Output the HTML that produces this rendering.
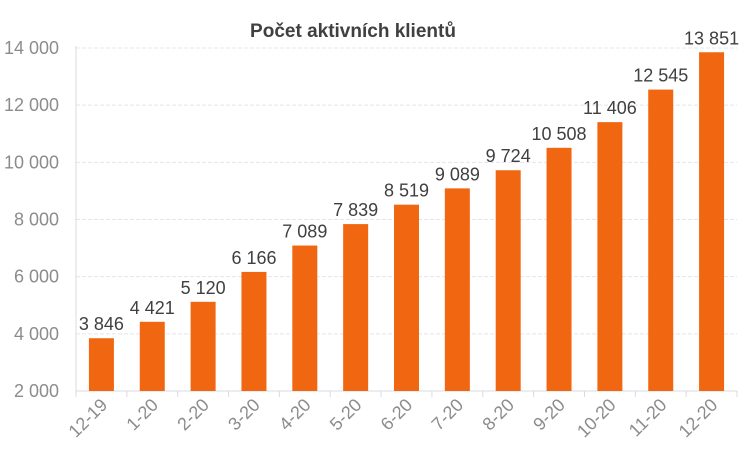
<!DOCTYPE html>
<html><head><meta charset="utf-8"><style>
body{margin:0;background:#fff}
svg text{font-family:"Liberation Sans",sans-serif}
</style></head><body>
<svg id="c" width="749" height="455">
<text x="353" y="37" text-anchor="middle" font-size="19" font-weight="bold" fill="#404040">Počet aktivních klientů</text>
<g id="g"></g>
</svg>
<script>
const categories=["12-19","1-20","2-20","3-20","4-20","5-20","6-20","7-20","8-20","9-20","10-20","11-20","12-20"];
const values=[3846,4421,5120,6166,7089,7839,8519,9089,9724,10508,11406,12545,13851];
const yTicks=[2000,4000,6000,8000,10000,12000,14000];
const L=76,R=737,T=48,B=391,yMin=2000,yMax=14000;
const ns="http://www.w3.org/2000/svg",g=document.getElementById('g');
const step=(R-L)/categories.length;
const y=v=>B-(v-yMin)/(yMax-yMin)*(B-T);
const x=i=>L+step*(i+0.5);
const fmt=v=>String(v).replace(/\B(?=(\d{3})+(?!\d))/g,' ');
function mk(t,a){const e=document.createElementNS(ns,t);for(const k in a)e.setAttribute(k,a[k]);g.appendChild(e);return e;}
yTicks.forEach(v=>{
 if(v>yMin){const l=mk('line',{x1:L,x2:R,y1:y(v),y2:y(v),stroke:'#e4e4ef','stroke-dasharray':'4 2'});
 
 }
 const t=mk('text',{x:L-17,y:y(v)+6,'text-anchor':'end','font-size':18,fill:'#8c8c8c'});t.textContent=fmt(v);
 
 
});
const ax=mk('line',{x1:L,x2:R,y1:B,y2:B,stroke:'#d9d9e3'});


const ay=mk('line',{x1:L,x2:L,y1:T-2,y2:B,stroke:'#d9d9e3'});


for(let i=0;i<=categories.length;i++){const tk=mk('line',{x1:L+step*i,x2:L+step*i,y1:B,y2:B+6,stroke:'#d9d9e3'});
 
 }
categories.forEach((c,i)=>{
 const bw=25,cx=x(i);
 const r=mk('rect',{x:cx-bw/2,y:y(values[i]),width:bw,height:B-y(values[i]),fill:'#f16611'});
 
 
 const v=mk('text',{x:cx,y:y(values[i])-8,'text-anchor':'middle','font-size':18,fill:'#404040'});v.textContent=fmt(values[i]);
 
 
 const t=mk('text',{x:0,y:0,'text-anchor':'end','font-size':18,fill:'#8c8c8c',transform:`translate(${cx+7},${B+15}) rotate(-45)`});t.textContent=c;
 
 
});
</script>
</body></html>
